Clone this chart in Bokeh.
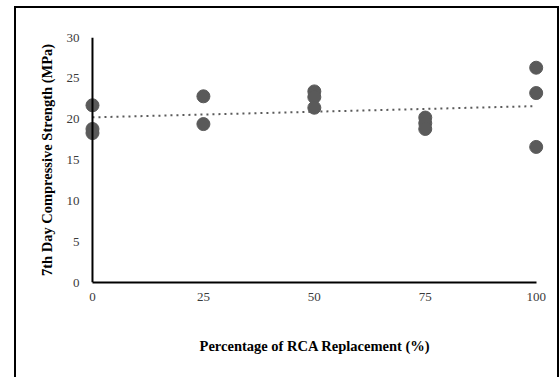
import numpy as np
from bokeh.plotting import figure
from bokeh.models import Range1d, FixedTicker, Span
from bokeh.embed import file_html
from bokeh.resources import INLINE

# Data
rca_pct = [0, 0, 0, 25, 25, 50, 50, 50, 75, 75, 75, 100, 100, 100]
strength_7d = [21.7, 18.8, 18.3, 22.8, 19.4, 23.4, 22.7, 21.4, 20.2, 19.5, 18.8, 26.3, 23.2, 16.6]
x_ticks = [0, 25, 50, 75, 100]
y_ticks = [0, 5, 10, 15, 20, 25, 30]

# Linear trend line (fitted from the data)
slope, intercept = np.polyfit(rca_pct, strength_7d, 1)
trend_x = [min(rca_pct), max(rca_pct)]
trend_y = [intercept + slope * v for v in trend_x]

p = figure(width=545, height=371, output_backend="svg", toolbar_location=None,
           x_range=Range1d(-2.7, 103), y_range=Range1d(0, 30),
           min_border_left=66, min_border_right=10, min_border_top=31, min_border_bottom=95)
p.margin = (6, 0, 0, 14)
p.outline_line_color = None
p.xgrid.visible = False
p.ygrid.visible = False
p.background_fill_color = None
p.border_fill_color = None
p.styles = {"box-shadow": "inset 2px 2px 0 0 #000000, inset -2px 0 0 0 #000000"}

p.line(trend_x, trend_y, line_color="#5a5a5a", line_width=2, line_dash="2 4")
p.scatter(rca_pct, strength_7d, size=13, fill_color="#5a5a5a", line_color="#5a5a5a")

# vertical axis line at x = 0
p.add_layout(Span(location=0, dimension="height", line_color="black", line_width=2))

serif = "Liberation Serif"
for ax in (p.xaxis[0], p.yaxis[0]):
    ax.major_tick_line_color = None
    ax.minor_tick_line_color = None
    ax.major_tick_out = 0
    ax.major_tick_in = 0
    ax.minor_tick_out = 0
    ax.minor_tick_in = 0
    ax.major_label_text_font = serif
    ax.major_label_text_font_size = "13px"
    ax.major_label_text_color = "#3a3a3a"
    ax.axis_label_text_font = serif
    ax.axis_label_text_font_size = "14.5px"
    ax.axis_label_text_font_style = "bold"
    ax.axis_label_text_color = "black"

p.xaxis[0].axis_line_color = "black"
p.xaxis[0].axis_line_width = 2
p.yaxis[0].axis_line_color = None
p.xaxis[0].ticker = FixedTicker(ticks=x_ticks)
p.yaxis[0].ticker = FixedTicker(ticks=y_ticks)
p.xaxis[0].bounds = (0, 100)
p.xaxis[0].axis_label = "Percentage of RCA Replacement (%)"
p.yaxis[0].axis_label = "7th Day Compressive Strength (MPa)"
p.xaxis[0].major_label_standoff = 10
p.yaxis[0].major_label_standoff = 1
p.xaxis[0].axis_label_standoff = 34
p.yaxis[0].axis_label_standoff = 9

open("out.html", "w").write(file_html(p, INLINE))
